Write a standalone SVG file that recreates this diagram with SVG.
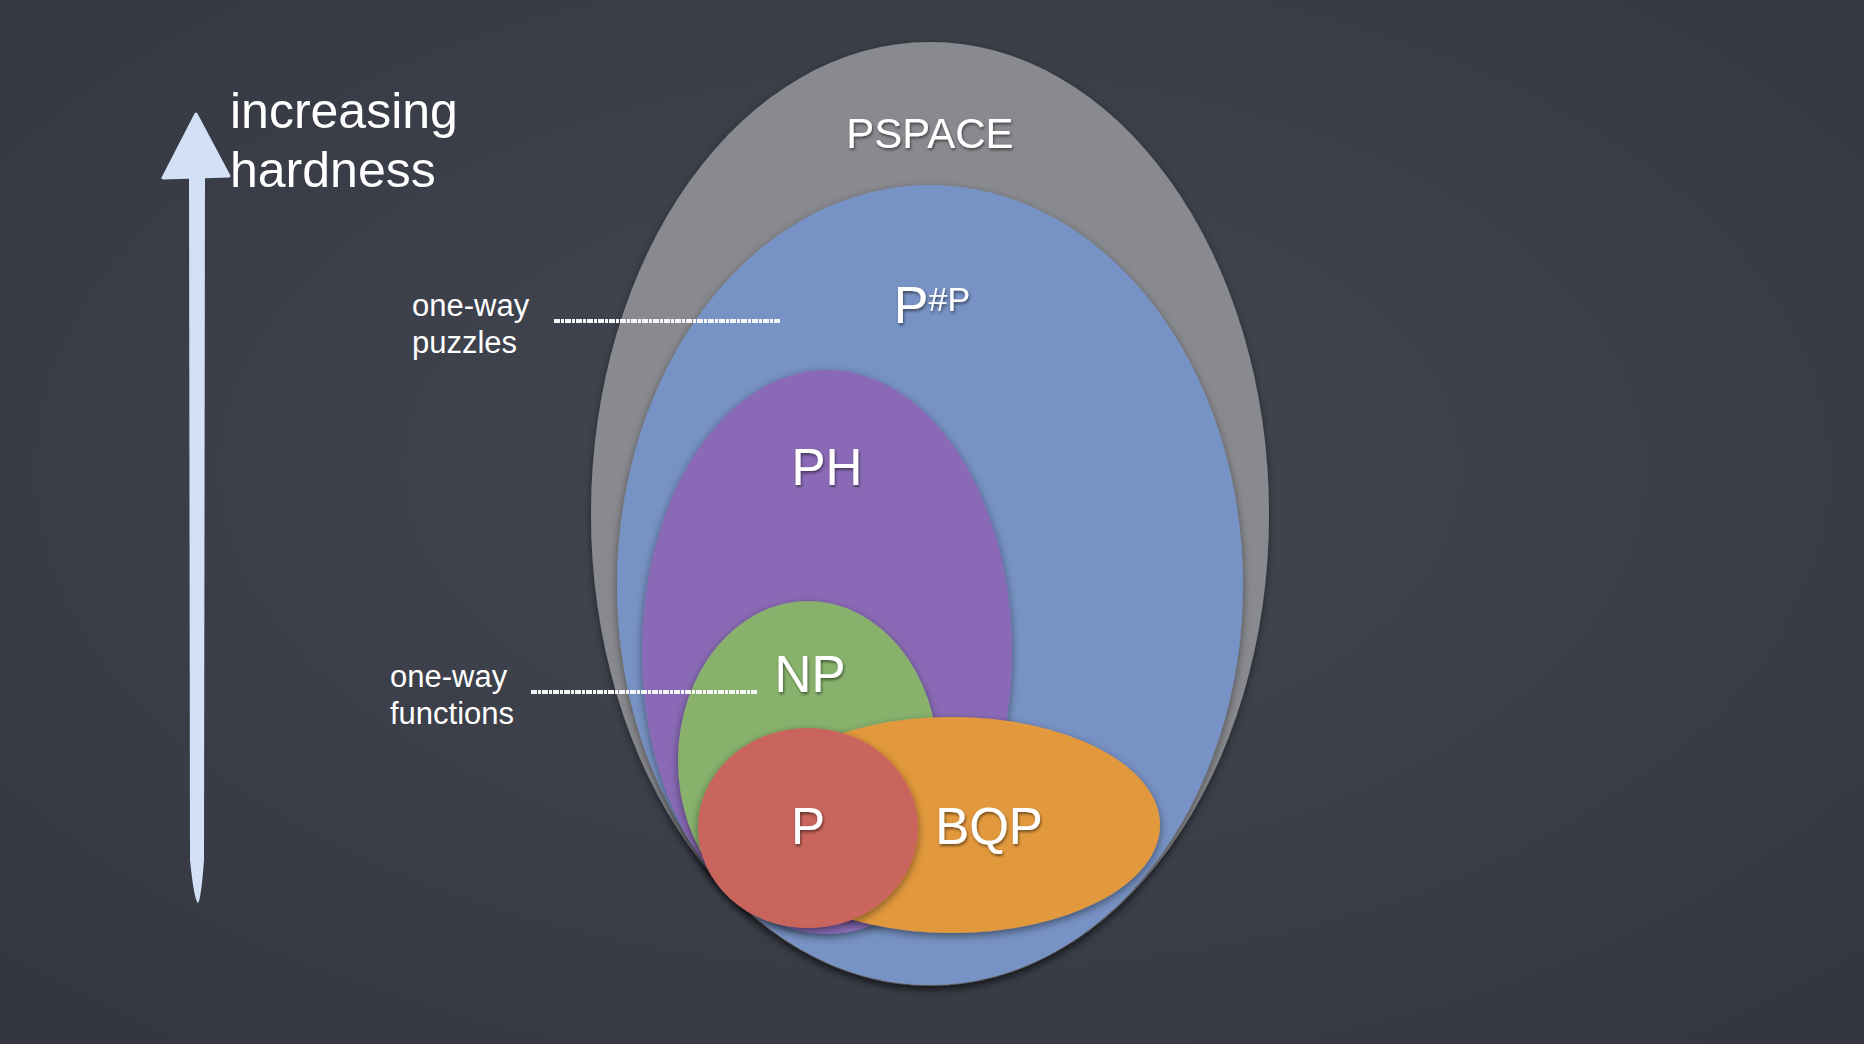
<svg xmlns="http://www.w3.org/2000/svg" width="1864" height="1044" viewBox="0 0 1864 1044">
<defs>
<radialGradient id="bg" cx="50%" cy="45%" r="75%">
<stop offset="0" stop-color="#444853"/>
<stop offset="1" stop-color="#33363f"/>
</radialGradient>
<filter id="sh" x="-10%" y="-10%" width="120%" height="120%">
<feDropShadow dx="0" dy="3" stdDeviation="4" flood-color="#000" flood-opacity="0.45"/>
</filter>
<filter id="tsh" x="-10%" y="-10%" width="120%" height="130%">
<feDropShadow dx="1" dy="2" stdDeviation="1.5" flood-color="#000" flood-opacity="0.5"/>
</filter>
<style>
.lbl{font-family:"Liberation Sans",Arial,sans-serif;fill:#ffffff;text-anchor:middle}
.big{font-size:51px}
.side{font-family:"Liberation Sans",Arial,sans-serif;fill:#ffffff;font-size:31px}
.chalk{stroke:#f4f4f4;stroke-width:4;stroke-dasharray:6 1 3 1;fill:none}
</style>
</defs>
<rect width="1864" height="1044" fill="url(#bg)"/>

<g id="arrow">
<path d="M189,176 L205,176 L204,860 Q201,900 198,903 Q194,900 190,860 Z" fill="#d2e1f7"/>
<path d="M196,114 L229,176 L163,178 Z" fill="#d2e1f7" stroke="#d2e1f7" stroke-width="3" stroke-linejoin="round"/>
<text class="side" x="230" y="128" style="font-size:50px">increasing</text>
<text class="side" x="230" y="187" style="font-size:50px">hardness</text>
</g>

<g id="PSPACE">
<ellipse cx="930" cy="514" rx="339" ry="472" fill="#898a8f" filter="url(#sh)"/>
<text class="lbl" x="930" y="148" style="font-size:42px" filter="url(#tsh)">PSPACE</text>
</g>

<g id="PsharpP">
<ellipse cx="930" cy="585" rx="313" ry="400" fill="#7792c4" filter="url(#sh)"/>
<text class="lbl" x="932" y="323" filter="url(#tsh)"><tspan style="font-size:52px">P</tspan><tspan style="font-size:34px" dy="-12">#P</tspan></text>
</g>

<g id="PH">
<ellipse cx="827" cy="652" rx="185" ry="282" fill="#8a6ab6" filter="url(#sh)"/>
<text class="lbl big" x="827" y="485" filter="url(#tsh)">PH</text>
</g>

<g id="NP">
<ellipse cx="808" cy="761" rx="130" ry="160" fill="#88b26c" filter="url(#sh)"/>
<text class="lbl big" x="810" y="692" filter="url(#tsh)">NP</text>
</g>

<g id="BQP">
<ellipse cx="952" cy="825" rx="208" ry="108" fill="#e2993d" filter="url(#sh)"/>
<text class="lbl big" x="989" y="844" filter="url(#tsh)">BQP</text>
</g>

<g id="P">
<ellipse cx="808" cy="828" rx="110" ry="100" fill="#c9655d" filter="url(#sh)"/>
<text class="lbl big" x="808" y="844" filter="url(#tsh)">P</text>
</g>

<g id="connectors">
<line class="chalk" x1="554" y1="321" x2="781" y2="321"/>
<line class="chalk" x1="531" y1="692" x2="758" y2="692"/>
</g>

<g id="labels">
<text class="side" x="412" y="316">one-way</text>
<text class="side" x="412" y="353">puzzles</text>
<text class="side" x="390" y="687">one-way</text>
<text class="side" x="390" y="724">functions</text>
</g>
</svg>
